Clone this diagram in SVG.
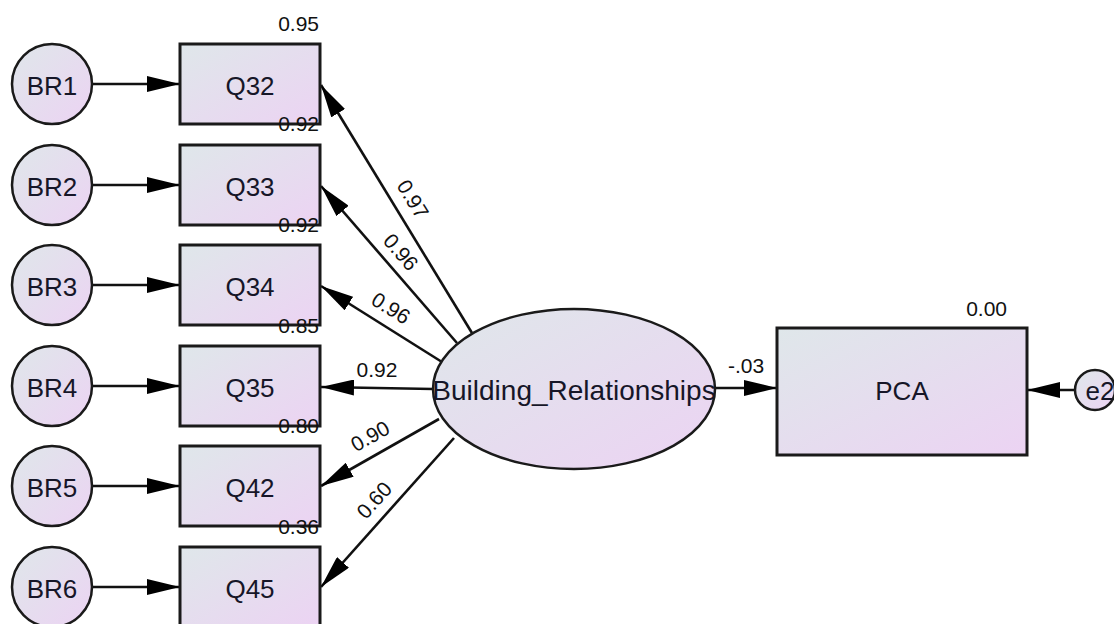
<svg xmlns="http://www.w3.org/2000/svg" width="1114" height="624" viewBox="0 0 1114 624">
  <style>
    .box { stroke: #1a1a1a; stroke-width: 3; fill: url(#nodeFill); }
    .ring { stroke: #1a1a1a; stroke-width: 2.5; fill: url(#nodeFill); }
    .lbl { font-family: "Liberation Sans", Arial, sans-serif; font-size: 26px; fill: #161628; text-anchor: middle; }
    .big { font-size: 28px; }
    .num { font-family: "Liberation Sans", Arial, sans-serif; font-size: 21px; fill: #111; }
    .path { stroke: #111; stroke-width: 2.6; fill: none; marker-end: url(#head); }
  </style>
  <defs>
    <linearGradient id="nodeFill" x1="0" y1="0" x2="1" y2="1">
      <stop offset="0" stop-color="#dfe7ea"/>
      <stop offset="1" stop-color="#ecd3f3"/>
    </linearGradient>
    <marker id="head" viewBox="0 0 33 16" refX="33" refY="8" markerWidth="33" markerHeight="16" markerUnits="userSpaceOnUse" orient="auto">
      <path d="M0,0 L33,8 L0,16 Z" fill="#000"/>
    </marker>
  </defs>
  <rect width="1114" height="624" fill="#fff"/>

  <!-- connectors -->
  <g id="connectors">
    <line class="path" x1="92" y1="84" x2="180" y2="84"/>
    <line class="path" x1="92" y1="185" x2="180" y2="185"/>
    <line class="path" x1="92" y1="285" x2="180" y2="285"/>
    <line class="path" x1="92" y1="386" x2="180" y2="386"/>
    <line class="path" x1="92" y1="486" x2="180" y2="486"/>
    <line class="path" x1="92" y1="587" x2="180" y2="587"/>

    <line class="path" x1="472" y1="333" x2="321" y2="85"/>
    <line class="path" x1="457" y1="343" x2="321" y2="186"/>
    <line class="path" x1="442" y1="362" x2="321" y2="286"/>
    <line class="path" x1="433" y1="389" x2="321" y2="387"/>
    <line class="path" x1="439" y1="419" x2="321" y2="486"/>
    <line class="path" x1="454" y1="438" x2="321" y2="587"/>

    <line class="path" x1="715" y1="388" x2="777" y2="388"/>
    <line class="path" x1="1075" y1="390" x2="1027" y2="390"/>

    <text class="num" text-anchor="middle" dominant-baseline="central" transform="translate(413,199) rotate(58.5)">0.97</text>
    <text class="num" text-anchor="middle" dominant-baseline="central" transform="translate(401,252) rotate(48.9)">0.96</text>
    <text class="num" text-anchor="middle" dominant-baseline="central" transform="translate(391,308) rotate(31.9)">0.96</text>
    <text class="num" x="377" y="377" text-anchor="middle">0.92</text>
    <text class="num" text-anchor="middle" dominant-baseline="central" transform="translate(370,436) rotate(-29.4)">0.90</text>
    <text class="num" text-anchor="middle" dominant-baseline="central" transform="translate(374,500) rotate(-48)">0.60</text>
    <text class="num" x="746" y="373" text-anchor="middle">-.03</text>
  </g>

  <!-- error terms -->
  <g id="BR1"><circle class="ring" cx="52" cy="84" r="40"/><text class="lbl" x="52" y="95">BR1</text></g>
  <g id="BR2"><circle class="ring" cx="52" cy="185" r="40"/><text class="lbl" x="52" y="196">BR2</text></g>
  <g id="BR3"><circle class="ring" cx="52" cy="285" r="40"/><text class="lbl" x="52" y="296">BR3</text></g>
  <g id="BR4"><circle class="ring" cx="52" cy="386" r="40"/><text class="lbl" x="52" y="397">BR4</text></g>
  <g id="BR5"><circle class="ring" cx="52" cy="486" r="40"/><text class="lbl" x="52" y="497">BR5</text></g>
  <g id="BR6"><circle class="ring" cx="52" cy="587" r="40"/><text class="lbl" x="52" y="598">BR6</text></g>

  <!-- observed items -->
  <g id="Q32"><rect class="box" x="180" y="44" width="140" height="80"/><text class="lbl" x="250" y="95">Q32</text><text class="num" x="319" y="31" text-anchor="end">0.95</text></g>
  <g id="Q33"><rect class="box" x="180" y="145" width="140" height="80"/><text class="lbl" x="250" y="196">Q33</text><text class="num" x="319" y="131" text-anchor="end">0.92</text></g>
  <g id="Q34"><rect class="box" x="180" y="245" width="140" height="80"/><text class="lbl" x="250" y="296">Q34</text><text class="num" x="319" y="232" text-anchor="end">0.92</text></g>
  <g id="Q35"><rect class="box" x="180" y="346" width="140" height="80"/><text class="lbl" x="250" y="397">Q35</text><text class="num" x="319" y="333" text-anchor="end">0.85</text></g>
  <g id="Q42"><rect class="box" x="180" y="446" width="140" height="80"/><text class="lbl" x="250" y="497">Q42</text><text class="num" x="319" y="433" text-anchor="end">0.80</text></g>
  <g id="Q45"><rect class="box" x="180" y="547" width="140" height="80"/><text class="lbl" x="250" y="598">Q45</text><text class="num" x="319" y="534" text-anchor="end">0.36</text></g>

  <!-- latent factor -->
  <g id="Building_Relationships">
    <ellipse class="ring" cx="574" cy="389" rx="141" ry="80"/>
    <text class="lbl big" x="574" y="400">Building_Relationships</text>
  </g>

  <!-- outcome -->
  <g id="PCA">
    <rect class="box" x="777" y="328" width="250" height="127"/>
    <text class="lbl" x="902" y="400">PCA</text>
    <text class="num" x="1007" y="316" text-anchor="end">0.00</text>
  </g>
  <g id="e2">
    <circle class="ring" cx="1095" cy="390" r="20"/>
    <text class="lbl" x="1100" y="400">e2</text>
  </g>
</svg>
